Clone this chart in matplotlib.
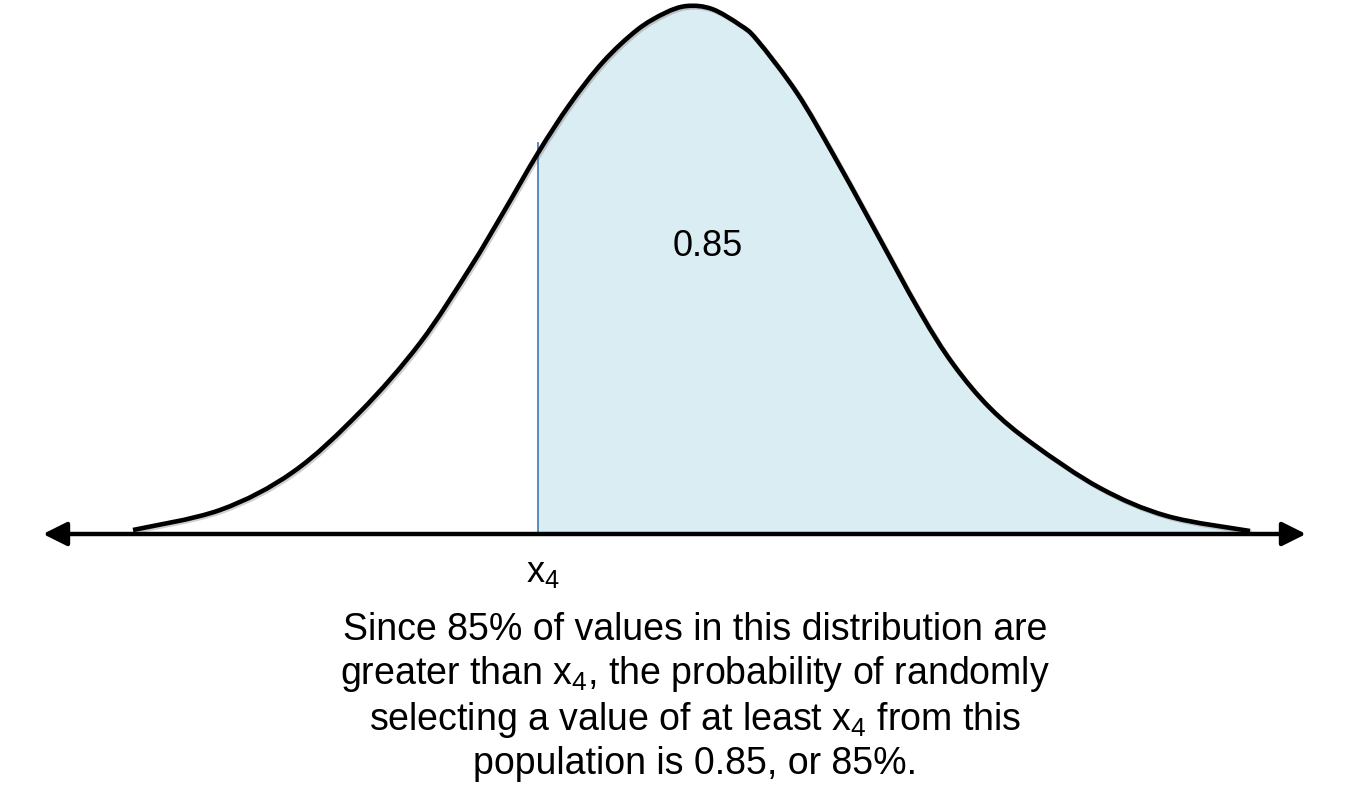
import matplotlib
matplotlib.use("Agg")
import matplotlib.pyplot as plt
from matplotlib.path import Path
from matplotlib.patches import PathPatch
import matplotlib.patheffects as pe
import numpy as np

plt.rcParams['font.family'] = ['Liberation Sans', 'DejaVu Sans']
plt.rcParams['mathtext.fontset'] = 'custom'
plt.rcParams['mathtext.rm'] = 'Liberation Sans'

# Curve: horizontal position and height above the axis
curve_x = [133, 220, 293, 360, 420, 470, 503, 538, 570, 603, 637, 665, 687,
           712, 740, 757, 797, 833, 870, 920, 953, 990, 1033, 1100, 1167, 1250]
curve_h = [4, 24, 62, 122, 191, 266, 321, 381, 430, 472, 504, 521, 528,
           525, 509, 494, 441, 380, 313, 222, 170, 126, 90, 46, 18, 3]
cut_x = 538          # position of x4
area_label = "0.85"
cut_label = r"$\mathrm{x_4}$"
caption = ("Since 85% of values in this distribution are\n"
           r"greater than $\mathrm{x_4}$, the probability of randomly" "\n"
           r"selecting a value of at least $\mathrm{x_4}$ from this" "\n"
           "population is 0.85, or 85%.")

W, H = 1351, 793
base_px = 534
fig = plt.figure(figsize=(W / 100, H / 100), dpi=100)
ax = fig.add_axes([0, 0, 1, 1])
ax.set_xlim(0, W)
ax.set_ylim(-(H - base_px), base_px)
ax.axis('off')

pts = np.column_stack([curve_x, curve_h]).astype(float)


def bezier_segments(p):
    n = len(p)
    segs = []
    for i in range(n - 1):
        p0 = p[i - 1] if i > 0 else p[i]
        p1 = p[i]
        p2 = p[i + 1]
        p3 = p[i + 2] if i + 2 < n else p[i + 1]
        c1 = p1 + (p2 - p0) / 6.0
        c2 = p2 - (p3 - p1) / 6.0
        segs.append((c1, c2, p2))
    return segs


segs = bezier_segments(pts)

# shaded area from x4 to the right end
k = curve_x.index(cut_x)
verts = [pts[k]]
codes = [Path.MOVETO]
for c1, c2, p2 in segs[k:]:
    verts += [c1, c2, p2]
    codes += [Path.CURVE4] * 3
verts += [(curve_x[-1], 0), (cut_x, 0), pts[k]]
codes += [Path.LINETO, Path.LINETO, Path.CLOSEPOLY]
ax.add_patch(PathPatch(Path(verts, codes), facecolor='#DAEDF2', edgecolor='none', zorder=1))

# blue boundary line at x4
ax.plot([cut_x, cut_x], [0, curve_h[k] + 10], color='#4F81BD', lw=1.3, zorder=2)

shadow = [pe.SimpleLineShadow(offset=(1.2, -1.2), shadow_color='#777777', alpha=0.35),
          pe.Normal()]

# curve
verts = [pts[0]]
codes = [Path.MOVETO]
for c1, c2, p2 in segs:
    verts += [c1, c2, p2]
    codes += [Path.CURVE4] * 3
ax.add_patch(PathPatch(Path(verts, codes), facecolor='none', edgecolor='black',
                       lw=3.3, capstyle='butt', zorder=4, path_effects=shadow))

# horizontal axis with arrows
ax.annotate('', xy=(43, 0), xytext=(1306, 0),
            arrowprops=dict(arrowstyle='<|-|>,head_length=0.72,head_width=0.36',
                            mutation_scale=20, lw=3.2, color='black',
                            shrinkA=0, shrinkB=0), zorder=5)

ax.text(708, base_px - 247, area_label, fontsize=26, ha='center', va='center', zorder=6)
ax.text(543, base_px - 573, cut_label, fontsize=26, ha='center', va='center', zorder=6)
ax.text(695, base_px - 697, caption, fontsize=27, ha='center', va='center',
        multialignment='center', linespacing=1.2, zorder=6)

fig.savefig('out.png', dpi=100)
